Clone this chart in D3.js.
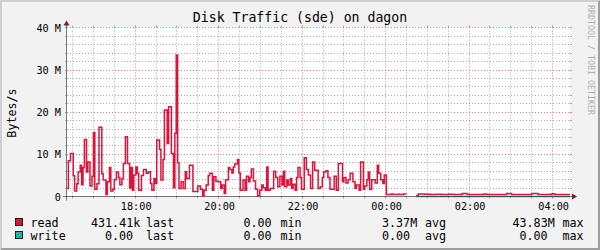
<!DOCTYPE html>
<html><head><meta charset="utf-8">
<script src="https://cdn.jsdelivr.net/npm/d3@7"></script>
<style>
html,body{margin:0;padding:0;background:#f2f2f2;}
svg{display:block;}
text{font-family:"DejaVu Sans Mono",monospace;}
</style>
</head><body>
<svg id="c" width="600" height="250"></svg>
<script>
// ---------------- data ----------------
const chartTitle = "Disk Traffic (sde) on dagon";
const yAxisTitle = "Bytes/s";
const watermark = "RRDTOOL / TOBI OETIKER";
const yTickValues = [0, 10, 20, 30, 40];
const yTickLabels = ["0", "10 M", "20 M", "30 M", "40 M"];
const xTickLabels = ["18:00", "20:00", "22:00", "00:00", "02:00", "04:00"];

// read: change points, minutes after 16:00, values in MB/s (null = unknown)
const readMinutes = [22,24,27,31,33,36,38,41,43,45,47,50,52,55,58,60,62,65,68,72,74,78,80,83,85,88,90,93,96,98,101,103,106,109,112,114,116,118,
121,123,125,129,132,136,139,142,144,147,149,151,155,157,160,162,166,168,172,175,177,179,181,183,186,189,192,194,198,
203,210,214,217,219,222,225,227,231,233,236,239,243,245,248,250,254,256,259,261,263,267,269,271,275,278,280,283,285,287,290,293,296,299,302,304,307,309,311,314,319,322,325,328,331,333,335,338,340,343,345,347,350,352,354,357,359,363,366,369,372,375,378,383,
386,389,391,394,397,400,406,409,412,418,420,423,426,429,433,436,438,442,444,448,450,453,455,457,460,465,468,470,473,476,478,481,
488,491,497,500,506,509,515,524,527,536,545,552,560,570,578,590,597,606,614,621,625,635,645,654,661,670,680,690,699,708,719,723,735,745];
const readValues = [1.9,8.5,10.2,4.9,1.3,3.0,5.8,7.4,2.8,6.9,13.5,5.8,8.2,2.5,4.8,15.2,1.7,3.0,16.4,5.4,3.9,0.5,3.5,6.9,1.3,1.7,4.0,5.8,4.5,2.8,4.2,7.8,14.2,7.8,2.0,6.9,1.5,5.1,
7.0,5.5,1.5,5.0,6.4,5.5,5.9,3.1,1.5,4.3,3.1,13.4,11.2,3.9,8.8,20.5,12.6,21.3,10.2,2.1,15.0,33.6,8.0,1.9,3.5,1.9,5.9,4.3,7.4,
1.2,2.5,1.7,0.2,1.5,2.7,4.9,5.5,1.5,4.7,3.6,3.5,1.9,2.7,0.7,4.0,6.9,6.4,5.6,7.0,7.7,8.8,5.6,1.5,3.9,1.5,4.8,3.5,4.5,6.5,3.7,1.7,0.2,1.5,2.7,2.1,1.5,7.0,1.5,1.9,6.0,4.5,2.3,4.8,2.7,6.0,2.3,3.9,2.7,4.3,1.9,2.9,1.5,4.5,6.9,4.5,1.7,9.2,6.4,5.1,1.9,8.2,6.2,1.9,
2.3,4.5,5.8,6.1,4.5,1.7,4.8,1.5,7.8,3.5,4.5,3.2,4.0,5.5,3.5,1.9,2.7,1.5,8.2,1.7,2.5,4.0,5.8,1.7,4.0,3.2,7.4,5.5,4.0,3.1,5.1,0.45,
0.6,0.45,0.55,0.45,0.6,0.45,null,0.25,0.6,0.55,0.45,0.55,0.45,0.55,0.45,0.7,0.5,0.45,0.5,0.6,0.45,0.5,0.45,0.7,0.5,0.45,0.5,0.7,0.5,0.45,0.65,0.5,0.45,0.45];

// write: all zero
const writeMinutes = [22, 515, 524, 745];
const writeValues = [0, null, 0, 0];

const seriesNames = ["read", "write"];
const lastValues = ["431.41k", "0.00"];
const minValues = ["0.00", "0.00"];
const avgValues = ["3.37M", "0.00"];
const maxValues = ["43.83M", "0.00"];

// ---------------- styles ----------------
const colors = {read: "#dc143c", write: "#20b2aa"};
const BG = "#f2f2f2", CANVAS = "#ffffff", SHADEA = "#cfcfcf", SHADEB = "#9e9e9e";
const GRID = "rgba(143,143,143,0.75)", MGRID = "rgba(222,79,79,0.75)";
const ARROW = "#801f1f", AXIS = "#1f1f1f";

const svg = d3.select("#c");
const base = new Date(2020, 0, 1, 16, 0, 0);
const toDate = m => new Date(base.getTime() + m * 60000);

const X0 = 67, X1 = 570, Y0 = 196.5, Y1 = 27.9;
const x = d3.scaleTime().domain([toDate(22), toDate(745)]).range([X0, X1]);
const y = d3.scaleLinear().domain([0, 40]).range([Y0, Y1]);
const px = v => Math.floor(v) + 0.5;

// background + bevel
svg.append("rect").attr("width", 600).attr("height", 250).attr("fill", BG);
svg.append("polygon").attr("points", "0,250 2,248 2,2 598,2 600,0 0,0").attr("fill", SHADEA);
svg.append("polygon").attr("points", "2,248 598,248 598,2 600,0 600,250 0,250").attr("fill", SHADEB);
// canvas
svg.append("rect").attr("x", X0).attr("y", px(y(40)) - 0.5).attr("width", X1 - X0).attr("height", px(y(0)) - px(y(40)))
  .attr("fill", CANVAS);

const g = svg.append("g");
const DASH = "1,2";
// horizontal grid
const yMinor = d3.range(0, 41, 2).filter(v => v % 10 !== 0);
yMinor.forEach(v => {
  const yy = px(y(v));
  g.append("line").attr("x1", X0).attr("x2", X1).attr("y1", yy).attr("y2", yy)
    .attr("stroke", GRID).attr("stroke-dasharray", DASH);
  g.append("line").attr("x1", X0 - 2).attr("x2", X0).attr("y1", yy).attr("y2", yy).attr("stroke", GRID);
  g.append("line").attr("x1", X1).attr("x2", X1 + 2).attr("y1", yy).attr("y2", yy).attr("stroke", GRID);
});
yTickValues.filter(v => v > 0).forEach(v => {
  const yy = px(y(v));
  g.append("line").attr("x1", X0).attr("x2", X1).attr("y1", yy).attr("y2", yy)
    .attr("stroke", MGRID).attr("stroke-dasharray", DASH);
  g.append("line").attr("x1", X0 - 2).attr("x2", X0).attr("y1", yy).attr("y2", yy).attr("stroke", MGRID);
  g.append("line").attr("x1", X1).attr("x2", X1 + 2).attr("y1", yy).attr("y2", yy).attr("stroke", MGRID);
});
// vertical grid
const majorT = x.ticks(d3.timeHour.every(2));
const minorT = x.ticks(d3.timeMinute.every(30)).filter(t => !(t.getMinutes() === 0 && t.getHours() % 2 === 0));
const yTop = px(y(40)), yBot = px(y(0));
minorT.forEach(t => {
  const xx = px(x(t));
  g.append("line").attr("x1", xx).attr("x2", xx).attr("y1", yTop).attr("y2", yBot)
    .attr("stroke", GRID).attr("stroke-dasharray", DASH);
  g.append("line").attr("x1", xx).attr("x2", xx).attr("y1", yTop - 2).attr("y2", yTop).attr("stroke", GRID);
  g.append("line").attr("x1", xx).attr("x2", xx).attr("y1", yBot).attr("y2", yBot + 2).attr("stroke", GRID);
});
majorT.forEach(t => {
  const xx = px(x(t));
  g.append("line").attr("x1", xx).attr("x2", xx).attr("y1", yTop).attr("y2", yBot)
    .attr("stroke", MGRID).attr("stroke-dasharray", DASH);
  g.append("line").attr("x1", xx).attr("x2", xx).attr("y1", yTop - 2).attr("y2", yTop).attr("stroke", MGRID);
  g.append("line").attr("x1", xx).attr("x2", xx).attr("y1", yBot).attr("y2", yBot + 2).attr("stroke", MGRID);
});

// y axis line
svg.append("line").attr("x1", X0 - 0.5).attr("x2", X0 - 0.5).attr("y1", yBot + 4).attr("y2", yTop - 4).attr("stroke", "#777");

// data lines
const mkLine = d3.line()
  .defined(d => d[1] !== null)
  .x(d => x(toDate(d[0])))
  .y(d => y(d[1]))
  .curve(d3.curveStepAfter);
const writeData = writeMinutes.map((m, i) => [m, writeValues[i]]);
const readData = readMinutes.map((m, i) => [m, readValues[i]]);
svg.append("path").attr("d", mkLine(writeData)).attr("fill", "none")
  .attr("stroke", colors.write).attr("stroke-width", 1.5);
// x axis drawn over write line
svg.append("line").attr("x1", X0 - 4).attr("x2", X1 + 4).attr("y1", yBot).attr("y2", yBot)
  .attr("stroke", AXIS).attr("stroke-opacity", 0.6);
svg.append("path").attr("d", mkLine(readData)).attr("fill", "none")
  .attr("stroke", colors.read).attr("stroke-width", 1.5).attr("stroke-linejoin", "miter");

// arrows
svg.append("polygon").attr("points", `${X1 + 2},${yBot - 3} ${X1 + 2},${yBot + 3} ${X1 + 7},${yBot}`).attr("fill", ARROW);
svg.append("polygon").attr("points", `${X0 - 3.5},${yTop - 2} ${X0 + 2.5},${yTop - 2} ${X0 - 0.5},${yTop - 7}`).attr("fill", ARROW);

// axis labels via d3 axes
const xAxis = d3.axisBottom(x).tickValues(majorT).tickSize(0).tickPadding(0)
  .tickFormat((d, i) => xTickLabels[i]);
const xa = svg.append("g").attr("transform", `translate(0.5,${yBot})`).call(xAxis);
xa.select(".domain").remove();
xa.selectAll("text").attr("y", 13).attr("dy", 0).attr("font-size", "10.2px")
  .attr("font-family", "DejaVu Sans Mono").attr("fill", "#000");

const yAxis = d3.axisLeft(y).tickValues(yTickValues).tickSize(0).tickPadding(0)
  .tickFormat((d, i) => yTickLabels[i]);
const ya = svg.append("g").attr("transform", `translate(61,0)`).call(yAxis);
ya.select(".domain").remove();
ya.selectAll("text").attr("x", 0).attr("dy", "3.6px").attr("font-size", "10.2px")
  .attr("font-family", "DejaVu Sans Mono").attr("fill", "#000");

// title
svg.append("text").attr("x", 300).attr("y", 21.5).attr("text-anchor", "middle")
  .attr("font-size", "13.2px").attr("fill", "#000").text(chartTitle);
// y title
svg.append("text").attr("transform", "translate(16,113) rotate(-90)").attr("text-anchor", "middle")
  .attr("font-size", "11.7px").attr("fill", "#000").text(yAxisTitle);
// watermark
svg.append("text").attr("transform", "translate(587.5,5) rotate(90)").attr("text-anchor", "start")
  .attr("font-size", "8.3px").attr("fill", "#b0b0b0").text(watermark);

// legend (values left-aligned at fixed columns, as rrdtool GPRINT)
const rowY = [226.5, 239.5];
const lastX = [91, 105], maxX = [512.5, 519.5];
seriesNames.forEach((name, i) => {
  const ly = rowY[i];
  svg.append("rect").attr("x", 15.5).attr("y", ly - 8).attr("width", 7).attr("height", 7)
    .attr("fill", colors[name]).attr("stroke", AXIS).attr("stroke-width", 1);
  const t = (xx, s) => svg.append("text").attr("x", xx).attr("y", ly)
    .attr("font-size", "11.7px").attr("fill", "#000").text(s);
  t(30.5, name);
  t(lastX[i], lastValues[i]);
  t(146, "last");
  t(243.5, minValues[i]);
  t(280.5, "min");
  t(382, avgValues[i]);
  t(425, "avg");
  t(maxX[i], maxValues[i]);
  t(562.5, "max");
});
</script>
</body></html>
